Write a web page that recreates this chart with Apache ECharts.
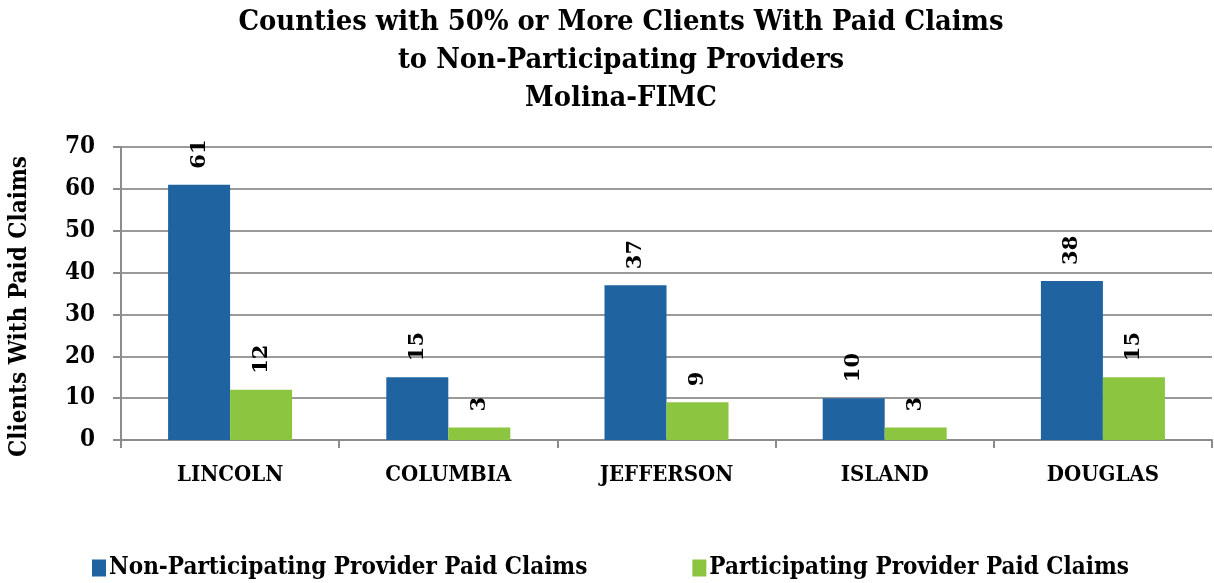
<!DOCTYPE html>
<html>
<head>
<meta charset="utf-8">
<script src="https://cdn.jsdelivr.net/npm/echarts@6/dist/echarts.min.js"></script>
<style>
  html, body { margin: 0; padding: 0; background: #fff; }
  #chart { width: 1214px; height: 583px; }
</style>
</head>
<body>
<div id="chart"></div>
<script>
var counties = ['LINCOLN', 'COLUMBIA', 'JEFFERSON', 'ISLAND', 'DOUGLAS'];
var nonParticipating = [61, 15, 37, 10, 38];
var participating = [12, 3, 9, 3, 15];
var yTicks = [0, 10, 20, 30, 40, 50, 60, 70];

var serif = '"DejaVu Serif", "Liberation Serif", serif';
var condensed = '"DejaVu Serif Condensed", "DejaVu Serif", serif';

var myChart = echarts.init(document.getElementById('chart'));
var option = {
    animation: false,
    title: {
        text: 'Counties with 50% or More Clients With Paid Claims\nto Non-Participating Providers\nMolina-FIMC',
        left: 616,
        top: -1,
        textAlign: 'center',
        textStyle: {
            fontFamily: condensed,
            fontWeight: 'bold',
            fontSize: 28.8,
            lineHeight: 38,
            color: '#000'
        }
    },
    legend: {
        bottom: -2,
        left: 87,
        itemGap: 105,
        itemWidth: 14,
        itemHeight: 17,
        icon: 'rect',
        textStyle: {
            fontFamily: condensed,
            fontWeight: 'bold',
            fontSize: 24,
            color: '#000',
            padding: [0, 0, 0, -2]
        },
        data: ['Non-Participating Provider Paid Claims', 'Participating Provider Paid Claims']
    },
    grid: {
        left: 120,
        right: 2,
        top: 147,
        bottom: 143
    },
    xAxis: {
        type: 'category',
        data: counties,
        axisLine: { lineStyle: { color: '#8c8c8c', width: 2 } },
        axisTick: { show: true, length: 8, lineStyle: { color: '#8c8c8c', width: 2 } },
        axisLabel: {
            margin: 24,
            fontFamily: condensed,
            fontWeight: 'bold',
            fontSize: 22,
            color: '#000'
        }
    },
    yAxis: {
        type: 'value',
        min: yTicks[0],
        max: yTicks[yTicks.length - 1],
        interval: 10,
        name: 'Clients With Paid Claims',
        nameLocation: 'middle',
        nameGap: 89,
        nameTextStyle: {
            fontFamily: condensed,
            fontWeight: 'bold',
            fontSize: 24,
            color: '#000',
            padding: [0, 26, 0, 0]
        },
        axisLine: { show: true, lineStyle: { color: '#8c8c8c', width: 2 } },
        axisTick: { show: true, length: 8, inside: false, lineStyle: { color: '#8c8c8c', width: 2 } },
        splitLine: { lineStyle: { color: '#9a9a9a', width: 2 } },
        axisLabel: {
            margin: 26,
            fontFamily: condensed,
            fontWeight: 'bold',
            fontSize: 24,
            color: '#000'
        }
    },
    series: [
        {
            name: 'Non-Participating Provider Paid Claims',
            type: 'bar',
            data: nonParticipating,
            barWidth: 62,
            barGap: '0%',
            itemStyle: { color: '#1f63a0' },
            label: {
                show: true,
                position: 'top',
                rotate: 90,
                align: 'left',
                verticalAlign: 'middle',
                distance: 16,
                fontFamily: serif,
                fontWeight: 'bold',
                fontSize: 21,
                color: '#000'
            }
        },
        {
            name: 'Participating Provider Paid Claims',
            type: 'bar',
            data: participating,
            barWidth: 62,
            barGap: '0%',
            itemStyle: { color: '#8cc540' },
            label: {
                show: true,
                position: 'top',
                rotate: 90,
                align: 'left',
                verticalAlign: 'middle',
                distance: 16,
                fontFamily: serif,
                fontWeight: 'bold',
                fontSize: 21,
                color: '#000'
            }
        }
    ]
};
myChart.setOption(option);
</script>
</body>
</html>
